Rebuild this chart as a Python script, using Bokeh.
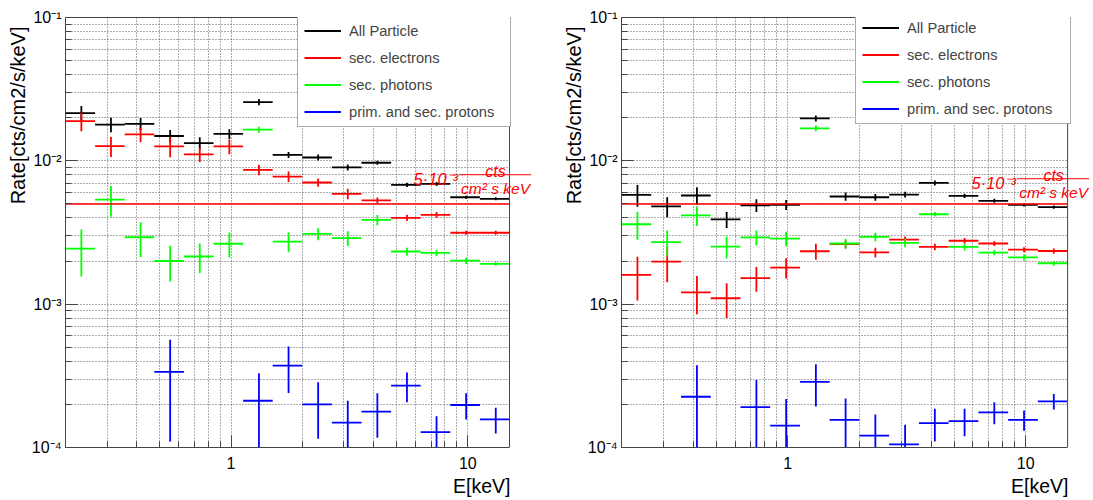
import math
from bokeh.plotting import figure
from bokeh.models import (FixedTicker, Span, Label, Arrow, Legend, LegendItem,
                          ColumnDataSource, Range1d, Title, LogAxis, BoxAnnotation)
from bokeh.layouts import row
from bokeh.embed import file_html
from bokeh.resources import INLINE

# ---------------- data ----------------
bin_edges = [0.2, 0.2667, 0.3557, 0.4743, 0.6325, 0.8434, 1.1247, 1.4998,
             2.0, 2.667, 3.557, 4.743, 6.325, 8.434, 11.247, 15.0]

series_names = ["All Particle", "sec. electrons", "sec. photons", "prim. and sec. protons"]
series_colors = ["#000000", "#ff0000", "#00ff00", "#0000ff"]

nan = float("nan")

# left panel
left_all = [0.0215, 0.0179, 0.0181, 0.0149, 0.0133, 0.0154, 0.0257, 0.0110,
            0.01055, 0.0090, 0.0097, 0.0068, 0.0069, 0.00557, 0.00543]
left_all_err = [0.0026, 0.0021, 0.0018, 0.0015, 0.0013, 0.0012, 0.0013, 0.00054,
                0.0005, 0.00044, 0.00032, 0.00023, 0.00023, 0.00014, 0.00013]
left_ele = [0.0189, 0.01265, 0.01528, 0.0126, 0.0111, 0.0126, 0.00865, 0.00776,
            0.00706, 0.00589, 0.00529, 0.0040, 0.0042, 0.00315, 0.00315]
left_ele_err = [0.0028, 0.0020, 0.0018, 0.0020, 0.0013, 0.0015, 0.00073, 0.00065,
                0.00047, 0.0005, 0.00026, 0.0002, 0.0002, 0.0001, 0.0001]
left_pho = [0.00244, 0.00537, 0.00293, 0.0020, 0.00215, 0.00264, 0.01652, 0.00273,
            0.00309, 0.00289, 0.00387, 0.00233, 0.00228, 0.00201, 0.00191]
left_pho_err = [0.00088, 0.0013, 0.0008, 0.00056, 0.0005, 0.00052, 0.0008, 0.00043,
                0.0003, 0.00034, 0.00032, 0.00015, 0.00011, 0.0001, 0.00006]
left_pro = [nan, nan, nan, 3.37e-4, nan, nan, 2.12e-4, 3.73e-4,
            2.00e-4, 1.49e-4, 1.78e-4, 2.70e-4, 1.28e-4, 1.98e-4, 1.57e-4]
left_pro_err = [nan, nan, nan, 2.27e-4, nan, nan, 1.18e-4, 1.33e-4,
                0.85e-4, 0.63e-4, 0.61e-4, 0.63e-4, 0.37e-4, 0.41e-4, 0.32e-4]

# right panel
right_all = [0.00579, 0.00481, 0.00573, 0.0039, 0.00489, 0.00494, 0.01977, 0.00564,
             0.00557, 0.00582, 0.00702, 0.0057, 0.00526, 0.00493, 0.00475]
right_all_err = [0.0010, 0.00077, 0.0008, 0.0005, 0.0005, 0.0004, 0.00098, 0.00037,
                 0.0003, 0.00027, 0.00028, 0.0002, 0.00017, 0.00012, 0.00012]
right_ele = [0.0016, 0.00198, 0.00121, 0.0011, 0.00152, 0.0018, 0.00234, 0.00262,
             0.0023, 0.00282, 0.00251, 0.00277, 0.00265, 0.0024, 0.00235]
right_ele_err = [0.00054, 0.00056, 0.00036, 0.0003, 0.0003, 0.00029, 0.0003, 0.00017,
                 0.00018, 0.00015, 0.00013, 0.00012, 0.0001, 0.0001, 0.0001]
right_pho = [0.00361, 0.00271, 0.00417, 0.00252, 0.00292, 0.00287, 0.01686, 0.00265,
             0.00295, 0.00268, 0.00424, 0.00251, 0.00229, 0.00212, 0.00193]
right_pho_err = [0.0008, 0.00056, 0.00066, 0.00044, 0.00035, 0.00033, 0.0008, 0.0002,
                 0.0002, 0.00018, 0.00015, 0.00014, 0.0001, 0.0001, 0.00008]
right_pro = [nan, nan, 2.26e-4, nan, 1.91e-4, 1.42e-4, 2.87e-4, 1.56e-4,
             1.21e-4, 1.05e-4, 1.48e-4, 1.53e-4, 1.76e-4, 1.56e-4, 2.10e-4]
right_pro_err = [nan, nan, 1.49e-4, nan, 1.05e-4, 0.76e-4, 0.94e-4, 0.64e-4,
                 0.49e-4, 0.39e-4, 0.38e-4, 0.33e-4, 0.31e-4, 0.25e-4, 0.26e-4]

rate_limit = 5e-3

x_limits = [0.2, 15]
y_limits = [1e-4, 1e-1]
x_major_ticks = [1, 10]
x_tick_labels = ["1", "10"]
y_major_ticks = [1e-4, 1e-3, 1e-2, 1e-1]
y_tick_labels = ["10\u207b\u2074", "10\u207b\u00b3", "10\u207b\u00b2", "10\u207b\u00b9"]
x_title = "E[keV]"
y_title = "Rate[cts/cm2/s/keV]"

FONT = "Liberation Sans"
EXT_PX = 26   # extra drawing room right of the axis end, for the annotation


def errbar_source(vals, errs):
    x0, x1, y0, y1 = [], [], [], []
    for i, (v, e) in enumerate(zip(vals, errs)):
        if v != v:
            continue
        lo, hi = bin_edges[i], bin_edges[i + 1]
        c = 0.5 * (lo + hi)
        x0 += [lo, c]
        x1 += [hi, c]
        y0 += [v, max(v - e, 1e-9)]
        y1 += [v, v + e]
    return ColumnDataSource(dict(x0=x0, x1=x1, y0=y0, y1=y1))


def make_panel(series, width, height, border_l, border_t, frame_w, frame_h, leg_x, ann_y):
    decades = math.log10(x_limits[1] / x_limits[0])
    x_ext = x_limits[1] * 10 ** (EXT_PX / frame_w * decades)
    fw = frame_w + EXT_PX
    p = figure(width=width, height=height, x_axis_type="log", y_axis_type="log",
               x_range=Range1d(x_limits[0], x_ext), y_range=Range1d(*y_limits),
               output_backend="svg", toolbar_location=None,
               min_border_left=border_l, min_border_right=width - border_l - fw,
               min_border_top=border_t, min_border_bottom=height - border_t - frame_h)
    p.background_fill_color = "white"
    p.outline_line_color = None

    x_minor = [m * 10.0 ** e for e in (-1, 0) for m in range(2, 10)]
    y_minor = [m * 10.0 ** e for e in (-4, -3, -2) for m in range(2, 10)]
    xt = FixedTicker(ticks=x_major_ticks, minor_ticks=x_minor)
    yt = FixedTicker(ticks=y_major_ticks, minor_ticks=y_minor)
    p.xaxis.ticker = xt
    p.yaxis.ticker = yt
    p.xgrid.ticker = xt
    p.ygrid.ticker = yt
    p.xaxis.bounds = tuple(x_limits)
    p.xaxis.major_label_overrides = dict(zip(x_major_ticks, x_tick_labels))
    p.yaxis.major_label_overrides = dict(zip(y_major_ticks, y_tick_labels))

    for ax in (p.xaxis[0], p.yaxis[0]):
        ax.major_tick_in = 12
        ax.major_tick_out = 0
        ax.minor_tick_in = 6
        ax.minor_tick_out = 0
        ax.axis_line_color = "#444444"
        ax.major_tick_line_color = "#444444"
        ax.minor_tick_line_color = "#444444"
        ax.major_label_text_font = FONT
        ax.major_label_text_font_size = "16px"
        ax.major_label_text_color = "black"
    p.xaxis.major_label_standoff = 9
    p.yaxis.major_label_standoff = 4

    # top frame edge
    top = LogAxis(ticker=FixedTicker(ticks=[]), bounds=tuple(x_limits),
                  axis_line_color="#444444", major_tick_in=0, major_tick_out=0,
                  minor_tick_in=0, minor_tick_out=0, major_label_standoff=0)
    p.add_layout(top, "above")

    for g in (p.xgrid[0], p.ygrid[0]):
        g.grid_line_color = "#5a5a5a"
        g.grid_line_dash = "1 2"
        g.grid_line_width = 1
        g.minor_grid_line_color = "#5a5a5a"
        g.minor_grid_line_dash = "1 2"
        g.minor_grid_line_width = 1

    # blank out the room right of the axis end (covers grid lines only)
    p.add_layout(BoxAnnotation(left=x_limits[1], fill_color="white", fill_alpha=1.0,
                               line_color=None, level="underlay"))

    items = []
    for name, color, (vals, errs) in zip(series_names, series_colors, series):
        src = errbar_source(vals, errs)
        r = p.segment("x0", "y0", "x1", "y1", source=src, line_color=color, line_width=1.8)
        items.append(LegendItem(label=name, renderers=[r]))

    # 5e-3 reference level, across the axis range
    p.segment(x0=[x_limits[0]], y0=[rate_limit], x1=[x_limits[1]], y1=[rate_limit],
              line_color="#ff0000", line_width=1.5)

    # right frame edge
    p.add_layout(Span(location=x_limits[1], dimension="height", line_color="#444444", line_width=1))

    pad = 6
    row_h, spacing, glyph_w, standoff = 17, 10, 37, 8
    leg_h = 4 * row_h + 3 * spacing + 2 * pad
    legend = Legend(items=items, location=(leg_x, frame_h - leg_h), margin=0, padding=pad,
                    spacing=spacing, glyph_width=glyph_w, glyph_height=row_h, label_height=row_h,
                    label_standoff=standoff, label_width=frame_w - leg_x - 2 * pad - glyph_w - standoff,
                    label_text_font=FONT, label_text_font_size="14.7px",
                    border_line_color="#555555", border_line_width=1.2,
                    background_fill_color="white", background_fill_alpha=1.0)
    p.add_layout(legend)

    # axis titles (ROOT style: aligned to the axis ends)
    p.add_layout(Title(text=y_title, align="right", offset=9, text_font=FONT,
                       text_font_size="20px", text_font_style="normal", text_color="black",
                       standoff=0), "left")
    p.add_layout(Title(text=x_title, align="right", offset=EXT_PX - 1, text_font=FONT,
                       text_font_size="19.5px", text_font_style="normal", text_color="black",
                       standoff=2), "below")

    # rate limit annotation
    ann_font = dict(text_font=FONT, text_font_style="italic", text_color="#ff0000")
    p.add_layout(Label(x=9.1, y=ann_y, text="5\u00b710\u207b\u00b3", text_align="right",
                       text_baseline="alphabetic", y_offset=-4, text_font_size="16.5px", **ann_font))
    p.add_layout(Label(x=13.1, y=ann_y, text="cts", text_align="center",
                       text_baseline="alphabetic", y_offset=3, text_font_size="16px", **ann_font))
    p.add_layout(Label(x=13.1, y=ann_y, text="cm\u00b2 s keV", text_align="center",
                       text_baseline="alphabetic", y_offset=-14, text_font_size="15.5px", **ann_font))
    p.add_layout(Arrow(end=None, x_start=9.2, y_start=ann_y, x_end=18.5, y_end=ann_y,
                       line_color="#ff0000", line_width=1))
    return p


left_series = [(left_all, left_all_err), (left_ele, left_ele_err),
               (left_pho, left_pho_err), (left_pro, left_pro_err)]
right_series = [(right_all, right_all_err), (right_ele, right_ele_err),
                (right_pho, right_pho_err), (right_pro, right_pro_err)]

p1 = make_panel(left_series, 560, 500, 65, 17, 444, 430, 232, 0.0080)
p2 = make_panel(right_series, 533, 500, 59, 14, 448, 433, 234, 0.0075)

layout = row(p1, p2)
open("out.html", "w").write(file_html(layout, INLINE))
